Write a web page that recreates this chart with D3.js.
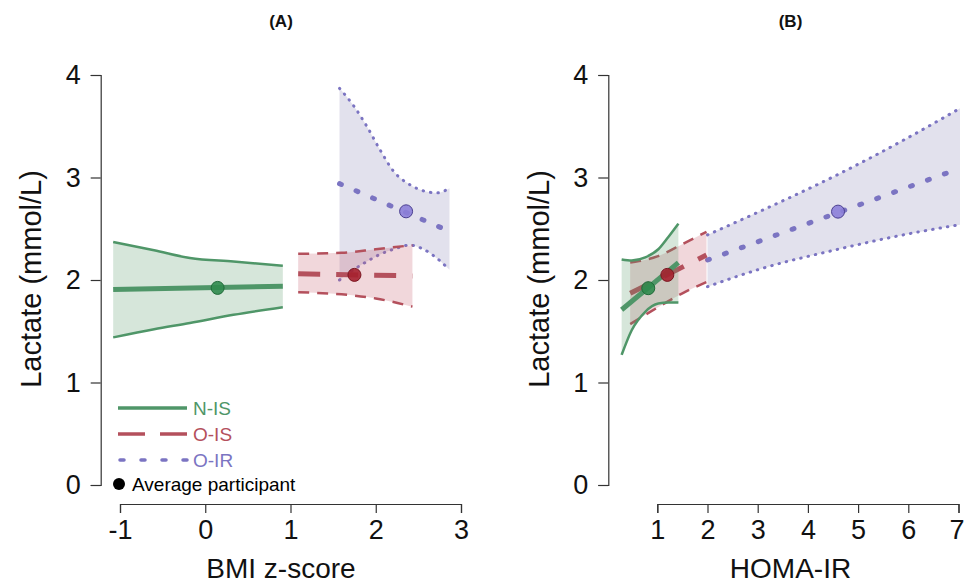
<!DOCTYPE html>
<html>
<head>
<meta charset="utf-8">
<script src="https://cdnjs.cloudflare.com/ajax/libs/d3/7.8.5/d3.min.js"></script>
<style>
body { margin: 0; background: #fff; }
svg { display: block; font-family: "Liberation Sans", Arial, sans-serif; }
</style>
</head>
<body>
<div id="chart"></div>
<script>
// ticks
var lacTicks = [0, 1, 2, 3, 4];
var bmiTicks = [-1, 0, 1, 2, 3];
var homaTicks = [1, 2, 3, 4, 5, 6, 7];
var groups = ["N-IS", "O-IS", "O-IR"];

// panel A : BMI z-score
var nisBmiX = [-1.08, -0.6, -0.18, 0.33, 0.91];
var nisBmiLo = [1.44, 1.52, 1.58, 1.66, 1.735];
var nisBmiHi = [2.37, 2.29, 2.215, 2.18, 2.14];
var nisBmiFit = [1.907, 1.94];

var oisBmiX = [1.09, 1.6, 2.0, 2.43];
var oisBmiLo = [1.88, 1.86, 1.82, 1.74];
var oisBmiHi = [2.255, 2.265, 2.30, 2.34];
var oisBmiFit = [2.06, 2.04];

var oirBmiX = [1.575, 1.74, 1.895, 2.05, 2.21, 2.40, 2.56, 2.72, 2.865];
var oirBmiLo = [2.0, 2.10, 2.18, 2.25, 2.30, 2.34, 2.30, 2.21, 2.10];
var oirBmiHi = [3.87, 3.70, 3.50, 3.27, 3.06, 2.93, 2.87, 2.85, 2.895];
var oirBmiFit = [2.94, 2.475];

var avgBmi = [0.145, 1.75, 2.356];
var avgBmiLac = [1.923, 2.05, 2.67];

// panel B : HOMA-IR
var nisHomaX = [0.29, 0.49, 0.76, 1.02, 1.22, 1.42];
var nisHomaLo = [1.27, 1.51, 1.69, 1.77, 1.78, 1.78];
var nisHomaHi = [2.2, 2.19, 2.22, 2.3, 2.42, 2.55];
var nisHomaFit = [1.71, 2.17];

var oisHomaX = [0.46, 1.0, 1.5, 1.98];
var oisHomaLo = [1.57, 1.73, 1.87, 1.98];
var oisHomaHi = [2.17, 2.23, 2.35, 2.47];
var oisHomaFit = [1.87, 2.244];

var oirHomaX = [2.0, 3.0, 4.6, 6.0, 7.03];
var oirHomaLo = [1.935, 2.1, 2.3, 2.45, 2.54];
var oirHomaHi = [2.44, 2.66, 3.03, 3.39, 3.675];
var oirHomaFit = [2.195, 3.09];

var avgHoma = [0.82, 1.2, 4.6];
var avgHomaLac = [1.92, 2.05, 2.667];

// look of each group
var lineColor = {"N-IS": "#4f9668", "O-IS": "#b4505c", "O-IR": "#7b74c2"};
var fillColor = {"N-IS": "#5a9a6a", "O-IS": "#c8606e", "O-IR": "#8a86b8"};
var dotColor = {"N-IS": "#2f8a4c", "O-IS": "#a5202e", "O-IR": "#8c80d8"};
var dotStroke = {"N-IS": "#1f6a38", "O-IS": "#7a1520", "O-IR": "#4a3f90"};
var fitDash = {"N-IS": null, "O-IS": "22,16", "O-IR": "2,16"};
var bandDash = {"N-IS": null, "O-IS": "11,8", "O-IR": "0.5,7"};
var capFor = {"N-IS": "butt", "O-IS": "butt", "O-IR": "round"};

var W = 966, H = 585;
var svg = d3.select("#chart").append("svg")
  .attr("width", W)
  .attr("height", H);

var y = d3.scaleLinear().domain([0, 4]).range([485, 75]);

function drawPanel(p) {
  var x = d3.scaleLinear().domain(p.dom).range(p.rng);
  var g = svg.append("g");

  //draw order: O-IR, O-IS, N-IS
  p.series.slice().reverse().forEach(function (s) {
    var rows = s.x.map(function (v, i) { return {x: v, lo: s.lo[i], hi: s.hi[i]}; });
    var area = d3.area()
      .curve(d3.curveMonotoneX)
      .x(function (d) { return x(d.x); })
      .y0(function (d) { return y(d.lo); })
      .y1(function (d) { return y(d.hi); });
    g.append("path").datum(rows)
      .attr("d", area)
      .attr("fill", fillColor[s.name])
      .attr("fill-opacity", 0.25);

    ["lo", "hi"].forEach(function (k) {
      var ln = d3.line().curve(d3.curveMonotoneX)
        .x(function (d) { return x(d.x); })
        .y(function (d) { return y(d[k]); });
      g.append("path").datum(rows)
        .attr("d", ln)
        .attr("fill", "none")
        .attr("stroke", lineColor[s.name])
        .attr("stroke-width", s.name === "O-IR" ? 3 : 2.5)
        .attr("stroke-linecap", capFor[s.name])
        .attr("stroke-dasharray", bandDash[s.name]);
    });

    var fit = [{x: s.x[0], v: s.fit[0]}, {x: s.x[s.x.length - 1], v: s.fit[1]}];
    g.append("path").datum(fit)
      .attr("d", d3.line().x(function (d) { return x(d.x); }).y(function (d) { return y(d.v); }))
      .attr("fill", "none")
      .attr("stroke", lineColor[s.name])
      .attr("stroke-width", 5)
      .attr("stroke-linecap", capFor[s.name])
      .attr("stroke-dasharray", fitDash[s.name]);
  });

  // average participant
  groups.forEach(function (name, i) {
    g.append("circle")
      .attr("cx", x(p.avgX[i]))
      .attr("cy", y(p.avgY[i]))
      .attr("r", 6.5)
      .attr("fill", dotColor[name])
      .attr("fill-opacity", 0.9)
      .attr("stroke", dotStroke[name])
      .attr("stroke-width", 1);
  });

  //axes
  var fmt = function (d) { return String(d); };  // plain hyphen, no decimals
  var xAxis = d3.axisBottom(x).tickValues(p.ticks).tickFormat(fmt).tickSizeOuter(0).tickSize(9).tickPadding(7);
  var yAxis = d3.axisLeft(y).tickValues(lacTicks).tickFormat(fmt).tickSizeOuter(0).tickSize(10).tickPadding(10);

  var xa = svg.append("g").attr("transform", "translate(0,504)").call(xAxis);
  var ya = svg.append("g").attr("transform", "translate(" + p.rng0 + ",0)").call(yAxis);
  [xa, ya].forEach(function (a) {
    a.selectAll("path, line").attr("stroke", "#333").attr("stroke-width", 1.2);
    a.selectAll("text").attr("fill", "#111").style("font-size", "27px")
      .style("font-family", "'Liberation Sans', Arial, sans-serif");
  });
  // keep the last label inside the window
  xa.selectAll(".tick:last-of-type text").attr("dx", p.lastDx);

  svg.append("text")
    .attr("x", p.mid).attr("y", 578)
    .attr("text-anchor", "middle")
    .style("font-size", "28px").attr("fill", "#111")
    .text(p.xlab);

  svg.append("text")
    .attr("transform", "translate(" + (p.rng0 - 59.5) + ",279) rotate(-90)")
    .attr("text-anchor", "middle")
    .style("font-size", "29px").attr("fill", "#111")
    .text("Lactate (mmol/L)");

  svg.append("text")
    .attr("x", p.mid).attr("y", 27)
    .attr("text-anchor", "middle")
    .style("font-size", "17px").style("font-weight", "bold").attr("fill", "#111")
    .text(p.title);
}

drawPanel({
  title: "(A)", xlab: "BMI z-score",
  dom: [-1, 3], rng: [120, 461], rng0: 100.7, mid: 281, lastDx: 0,
  ticks: bmiTicks,
  series: [
    {name: "N-IS", x: nisBmiX, lo: nisBmiLo, hi: nisBmiHi, fit: nisBmiFit},
    {name: "O-IS", x: oisBmiX, lo: oisBmiLo, hi: oisBmiHi, fit: oisBmiFit},
    {name: "O-IR", x: oirBmiX, lo: oirBmiLo, hi: oirBmiHi, fit: oirBmiFit}
  ],
  avgX: avgBmi, avgY: avgBmiLac
});

drawPanel({
  title: "(B)", xlab: "HOMA-IR",
  dom: [1, 7], rng: [657.3, 958.5], rng0: 608.3, mid: 790.5, lastDx: -2,
  ticks: homaTicks,
  series: [
    {name: "N-IS", x: nisHomaX, lo: nisHomaLo, hi: nisHomaHi, fit: nisHomaFit},
    {name: "O-IS", x: oisHomaX, lo: oisHomaLo, hi: oisHomaHi, fit: oisHomaFit},
    {name: "O-IR", x: oirHomaX, lo: oirHomaLo, hi: oirHomaHi, fit: oirHomaFit}
  ],
  avgX: avgHoma, avgY: avgHomaLac
});

// legend (panel A)
var legDash = {"N-IS": null, "O-IS": "27,15", "O-IR": "4,17"};
var leg = svg.append("g").attr("transform", "translate(118,408)");
groups.forEach(function (name, i) {
  leg.append("line")
    .attr("x1", name === "O-IR" ? 2 : 0).attr("x2", 69)
    .attr("y1", i * 26).attr("y2", i * 26)
    .attr("stroke", lineColor[name])
    .attr("stroke-width", 3.5)
    .attr("stroke-linecap", name === "O-IR" ? "round" : "butt")
    .attr("stroke-dasharray", legDash[name]);
  leg.append("text")
    .attr("x", 75).attr("y", i * 26)
    .attr("dy", "0.35em")
    .style("font-size", "19px")
    .attr("fill", lineColor[name])
    .text(name);
});
leg.append("circle").attr("cx", 1).attr("cy", 76).attr("r", 6).attr("fill", "#000");
leg.append("text")
  .attr("x", 14).attr("y", 76).attr("dy", "0.35em")
  .style("font-size", "19px").attr("fill", "#000")
  .text("Average participant");
</script>
</body>
</html>
